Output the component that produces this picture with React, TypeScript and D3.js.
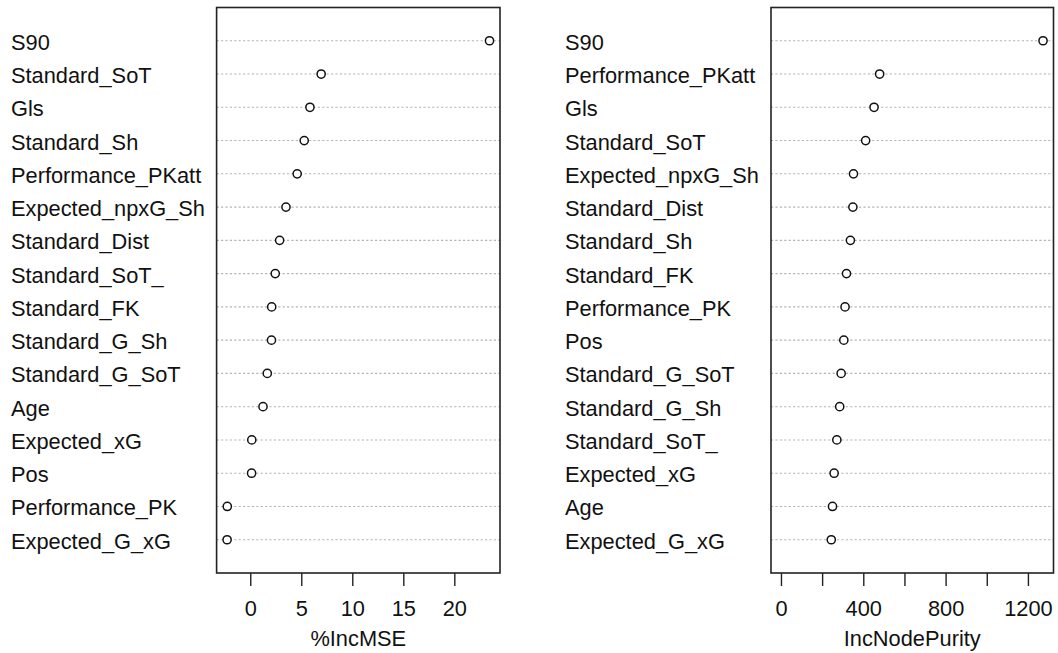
import React from "react";
import * as d3 from "d3";

// Variable importance from a random forest regression (two measures)
const mseVars = [
  "S90", "Standard_SoT", "Gls", "Standard_Sh", "Performance_PKatt",
  "Expected_npxG_Sh", "Standard_Dist", "Standard_SoT_", "Standard_FK",
  "Standard_G_Sh", "Standard_G_SoT", "Age", "Expected_xG", "Pos",
  "Performance_PK", "Expected_G_xG",
];
const mseValues = [
  23.4, 6.9, 5.8, 5.24, 4.55, 3.45, 2.83, 2.4, 2.05, 2.03, 1.62, 1.2,
  0.1, 0.08, -2.3, -2.32,
];

const purityVars = [
  "S90", "Performance_PKatt", "Gls", "Standard_SoT", "Expected_npxG_Sh",
  "Standard_Dist", "Standard_Sh", "Standard_FK", "Performance_PK", "Pos",
  "Standard_G_SoT", "Standard_G_Sh", "Standard_SoT_", "Expected_xG",
  "Age", "Expected_G_xG",
];
const purityValues = [
  1271, 477, 450, 409, 350, 347, 335, 316, 309, 303, 290, 283, 269, 256,
  248, 242,
];

const mseTicks = [0, 5, 10, 15, 20];
const purityTicks = [0, 200, 400, 600, 800, 1000, 1200];
const purityTickLabels = [0, 400, 800, 1200];

const FONT = "'Liberation Sans', Arial, sans-serif";
const FS = 21.8;

type PanelProps = {
  vars: string[];
  values: number[];
  ticks: number[];
  tickLabels: number[];
  title: string;
  labelX: number;
  boxLeft: number;
  boxRight: number;
  fromZero: boolean;
};

function Panel({ vars, values, ticks, tickLabels, title, labelX, boxLeft, boxRight, fromZero }: PanelProps) {
  const top = 7.5;
  const bottom = 573;
  const n = vars.length;
  const lo = fromZero ? 0 : (d3.min(values) as number);
  const hi = d3.max(values) as number;
  const pad = (hi - lo) * 0.04;
  const x = d3.scaleLinear().domain([lo - pad, hi + pad]).range([boxLeft, boxRight]);
  const y = d3.scaleLinear().domain([0, n + 1]).range([bottom, top]);
  const tickLen = 13;

  return (
    <g>
      {vars.map((v, i) => {
        const yy = y(n - i);
        return (
          <g key={v}>
            <line
              x1={boxLeft}
              x2={boxRight}
              y1={yy}
              y2={yy}
              stroke="#b4b4b4"
              strokeWidth={1.1}
              strokeDasharray="2.2,2.2"
            />
            <text x={labelX} y={yy + 9} fontFamily={FONT} fontSize={FS} fill="#111">
              {v}
            </text>
            <circle cx={x(values[i])} cy={yy} r={4.1} fill="#fff" stroke="#111" strokeWidth={1.5} />
          </g>
        );
      })}
      <rect
        x={boxLeft}
        y={top}
        width={boxRight - boxLeft}
        height={bottom - top}
        fill="none"
        stroke="#222"
        strokeWidth={1.6}
      />
      {ticks.map((t) => (
        <line key={t} x1={x(t)} x2={x(t)} y1={bottom} y2={bottom + tickLen} stroke="#222" strokeWidth={1.4} />
      ))}
      {tickLabels.map((t) => (
        <text
          key={t}
          x={x(t)}
          y={616}
          textAnchor="middle"
          fontFamily={FONT}
          fontSize={FS}
          fill="#111"
        >
          {t}
        </text>
      ))}
      <text
        x={(boxLeft + boxRight) / 2}
        y={646}
        textAnchor="middle"
        fontFamily={FONT}
        fontSize={FS}
        fill="#111"
      >
        {title}
      </text>
    </g>
  );
}

export default function App() {
  return (
    <svg
      width={1058}
      height={653}
      style={{ position: "absolute", left: 0, top: 0, background: "#fff" }}
    >
      <rect width={1058} height={653} fill="#fff" />
      <Panel
        vars={mseVars}
        values={mseValues}
        ticks={mseTicks}
        tickLabels={mseTicks}
        title="%IncMSE"
        labelX={11}
        boxLeft={216.6}
        boxRight={500}
        fromZero={false}
      />
      <Panel
        vars={purityVars}
        values={purityValues}
        ticks={purityTicks}
        tickLabels={purityTickLabels}
        title="IncNodePurity"
        labelX={565}
        boxLeft={771}
        boxRight={1053.5}
        fromZero={true}
      />
    </svg>
  );
}
